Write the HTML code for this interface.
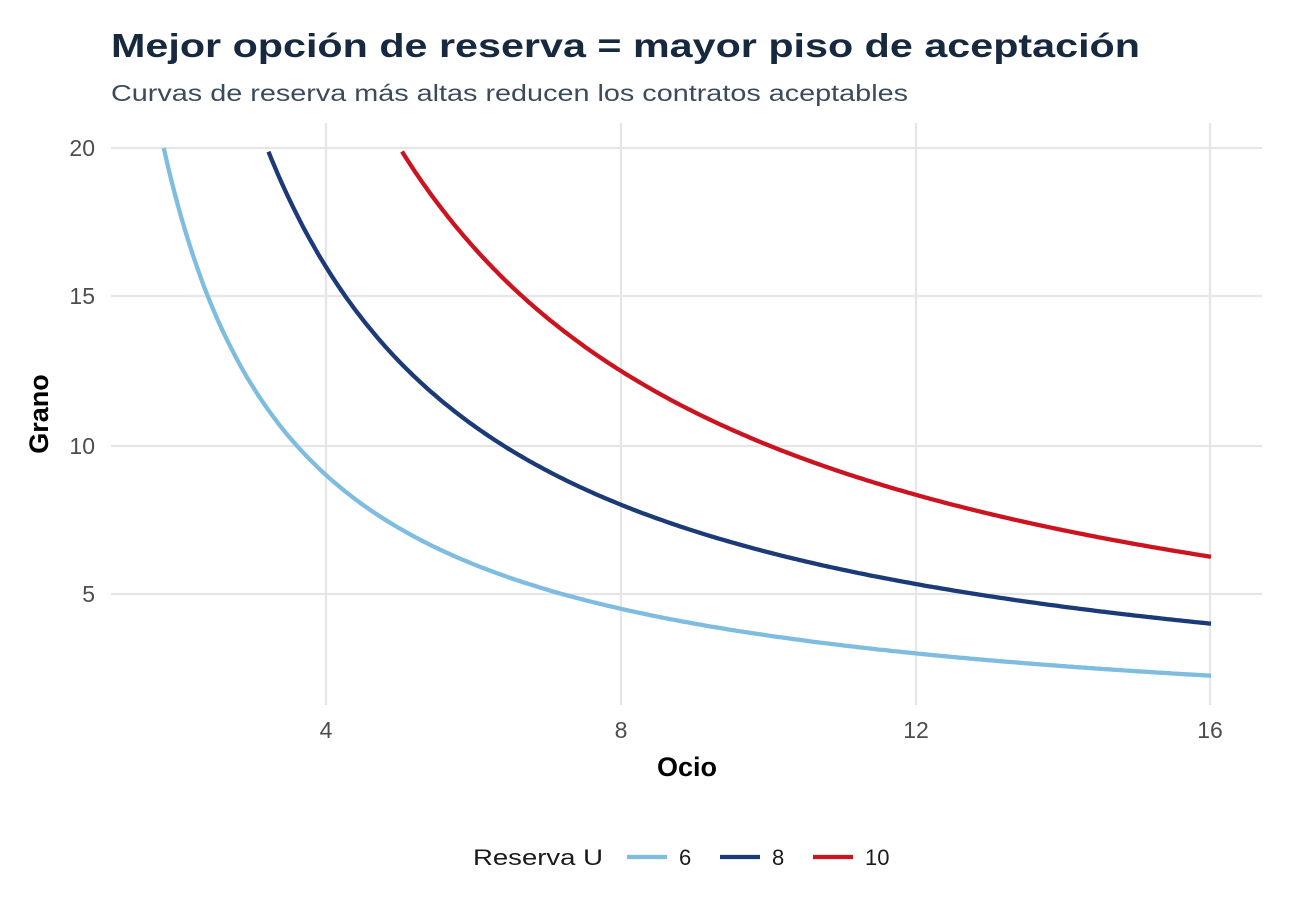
<!DOCTYPE html>
<html><head><meta charset="utf-8"><style>
body{margin:0;background:#fff;}
svg{display:block;font-family:"Liberation Sans",Arial,sans-serif;}
</style></head><body>
<svg id="s" width="1305" height="921" viewBox="0 0 1305 921" xmlns="http://www.w3.org/2000/svg">
<rect width="1305" height="921" fill="#fff"/>
<text x="111" y="57" font-size="33" font-weight="bold" fill="#17293f" textLength="1029" lengthAdjust="spacingAndGlyphs">Mejor opción de reserva = mayor piso de aceptación</text>
<text x="111" y="101" font-size="23" fill="#3b4a5c" textLength="797" lengthAdjust="spacingAndGlyphs">Curvas de reserva más altas reducen los contratos aceptables</text>
<g stroke="#e6e6e6" stroke-width="2.2">
<line x1="111" x2="1262" y1="148" y2="148"/>
<line x1="111" x2="1262" y1="296" y2="296"/>
<line x1="111" x2="1262" y1="446" y2="446"/>
<line x1="111" x2="1262" y1="594" y2="594"/>
<line x1="326" x2="326" y1="123" y2="705"/>
<line x1="621" x2="621" y1="123" y2="705"/>
<line x1="916" x2="916" y1="123" y2="705"/>
<line x1="1210" x2="1210" y1="123" y2="705"/>
</g>
<g font-size="23" fill="#4d4d4d" text-anchor="end">
<text x="95" y="156">20</text><text x="95" y="304">15</text><text x="95" y="454">10</text><text x="95" y="602">5</text>
</g>
<g font-size="23" fill="#4d4d4d" text-anchor="middle">
<text x="326" y="738">4</text><text x="621" y="738">8</text><text x="916" y="738">12</text><text x="1210" y="738">16</text>
</g>
<text x="687" y="776" font-size="27" font-weight="bold" text-anchor="middle">Ocio</text>
<text transform="translate(48,414) rotate(-90)" font-size="27" font-weight="bold" text-anchor="middle">Grano</text>
<g id="curves" fill="none" stroke-width="4.3"></g>
<text x="473" y="865" font-size="22" fill="#1a1a1a" textLength="130" lengthAdjust="spacingAndGlyphs">Reserva U</text>
<line x1="627" x2="667" y1="857" y2="857" stroke="#7fbde0" stroke-width="4.3"/>
<text x="679" y="865" font-size="22" fill="#1a1a1a">6</text>
<line x1="720" x2="760" y1="857" y2="857" stroke="#1b3a77" stroke-width="4.3"/>
<text x="772" y="865" font-size="22" fill="#1a1a1a">8</text>
<line x1="813" x2="853" y1="857" y2="857" stroke="#cc1420" stroke-width="4.3"/>
<text x="865" y="865" font-size="22" fill="#1a1a1a">10</text>
</svg>
<script>
var g=document.getElementById('curves');
function px(x){return 326+(x-4)*73.75;}
function py(y){return 148+(20-y)*29.73;}
[[36,1.8,'#7fbde0'],[64,3.22,'#1b3a77'],[100,5.03,'#cc1420']].forEach(function(c){
 var d='';for(var i=0;i<=300;i++){var x=c[1]+(16-c[1])*i/300;var y=c[0]/x;d+=(i?'L':'M')+px(x).toFixed(1)+' '+py(y).toFixed(1);}
 var p=document.createElementNS('http://www.w3.org/2000/svg','path');p.setAttribute('d',d);p.setAttribute('stroke',c[2]);g.appendChild(p);
});
</script>
</body></html>
